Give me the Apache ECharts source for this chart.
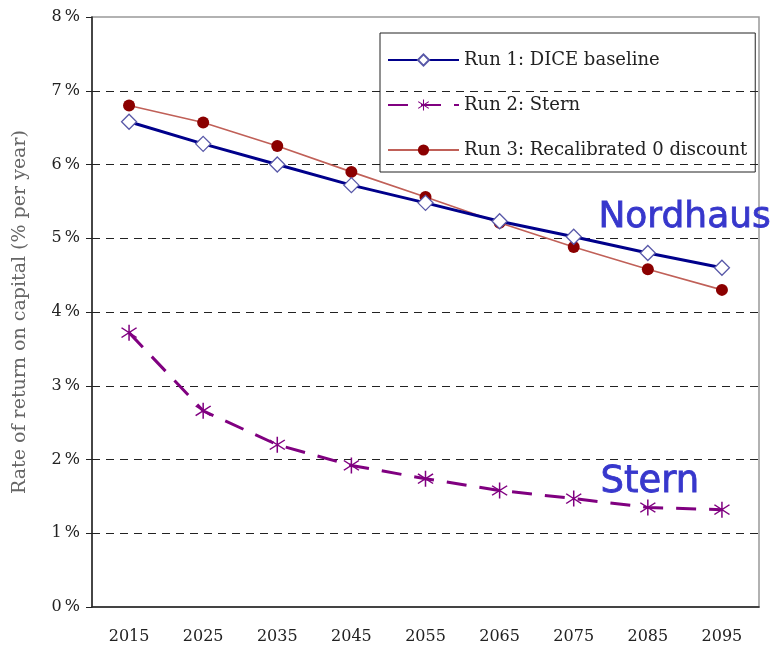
<!DOCTYPE html>
<html>
<head>
<meta charset="utf-8">
<script src="https://cdn.jsdelivr.net/npm/echarts@6/dist/echarts.min.js"></script>
<style>
  html, body { margin: 0; padding: 0; background: #fff; }
  #chart { width: 773px; height: 652px; }
</style>
</head>
<body>
<div id="chart"></div>
<script>
// years on the x axis
const years = ['2015', '2025', '2035', '2045', '2055', '2065', '2075', '2085', '2095']

// rate of return on capital, % per year
const diceBaseline = [6.58, 6.28, 6.00, 5.72, 5.48, 5.23, 5.02, 4.80, 4.60]
const stern = [3.72, 2.66, 2.20, 1.92, 1.74, 1.58, 1.47, 1.35, 1.32]
const recalibrated = [6.80, 6.57, 6.25, 5.90, 5.56, 5.21, 4.88, 4.58, 4.30]

// asterisk marker for the Stern run
const asterisk = 'path://M9.2,0L10.8,0L10.8,20L9.2,20Z' +
  'M2.48,3.36L18.48,15.36L17.52,16.64L1.52,4.64Z' +
  'M1.52,15.36L17.52,3.36L18.48,4.64L2.48,16.64Z'

const serif = 'DejaVu Serif'
const chart = echarts.init(document.getElementById('chart'))

chart.setOption({
  animation: false,
  grid: {
    left: 92, right: 14, top: 17, bottom: 45,
    show: true, borderColor: '#999', borderWidth: 1.5
  },
  legend: {
    orient: 'vertical',
    left: 380, top: 33,
    padding: [18, 8, 13, 7],
    itemGap: 27,
    itemWidth: 71,
    itemHeight: 14,
    borderColor: '#222',
    borderWidth: 1,
    textStyle: { fontFamily: serif, fontSize: 18, color: '#222' }
  },
  xAxis: {
    type: 'category',
    data: years,
    axisLine: { lineStyle: { color: '#222', width: 1.5 } },
    axisTick: { length: 7, lineStyle: { color: '#222', width: 1.2 } },
    axisLabel: { fontFamily: serif, fontSize: 16, color: '#222', margin: 22 }
  },
  yAxis: {
    type: 'value',
    min: 0, max: 8, interval: 1,
    name: 'Rate of return on capital (% per year)',
    nameLocation: 'middle',
    nameGap: 62,
    nameTextStyle: { fontFamily: serif, fontSize: 19, color: '#666' },
    axisLine: { show: true, lineStyle: { color: '#222', width: 1.5 } },
    axisTick: { show: true, length: 6, lineStyle: { color: '#222' } },
    axisLabel: {
      fontFamily: serif, fontSize: 16, color: '#222', margin: 12,
      formatter: '{value}\u2009%'
    },
    splitLine: {
      show: true,
      lineStyle: { color: '#222', type: [8, 6], width: 1.2 },
      showMinLine: false, showMaxLine: false
    }
  },
  series: [
    {
      name: 'Run 1: DICE baseline',
      type: 'line',
      data: diceBaseline,
      symbol: 'diamond',
      symbolSize: 15,
      lineStyle: { color: '#00008b', width: 3 },
      itemStyle: { color: '#fff', borderColor: '#5858a8', borderWidth: 1.3 }
    },
    {
      name: 'Run 2: Stern',
      type: 'line',
      data: stern,
      symbol: asterisk,
      symbolSize: 16,
      lineStyle: { color: '#800080', width: 3, type: [20, 13] },
      itemStyle: { color: '#800080' }
    },
    {
      name: 'Run 3: Recalibrated 0 discount',
      type: 'line',
      data: recalibrated,
      symbol: 'circle',
      symbolSize: 12,
      z: 1,
      lineStyle: { color: '#c06058', width: 1.6 },
      itemStyle: { color: '#8b0000' }
    }
  ],
  graphic: [
    {
      type: 'text', left: 598, top: 199,
      style: {
        text: 'Nordhaus', fill: '#3737cc', font: '36px "DejaVu Sans"',
        stroke: '#3737cc', lineWidth: 0.8
      }
    },
    {
      type: 'text', left: 600, top: 463,
      style: {
        text: 'Stern', fill: '#3737cc', font: '37px "DejaVu Sans"',
        stroke: '#3737cc', lineWidth: 0.8
      }
    }
  ]
})

window.addEventListener('resize', () => chart.resize())
</script>
</body>
</html>
